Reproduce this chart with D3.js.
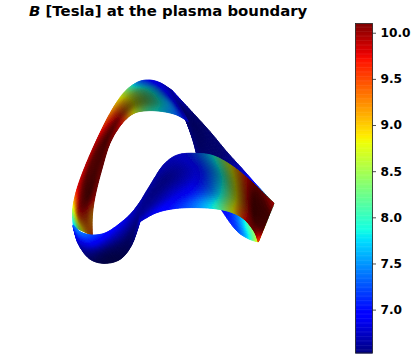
<!DOCTYPE html>
<html>
<head>
<meta charset="utf-8">
<script src="https://cdnjs.cloudflare.com/ajax/libs/d3/7.8.5/d3.min.js"></script>
<style>
html, body { margin: 0; padding: 0; background: #fff; }
text { font-family: "DejaVu Sans", sans-serif; font-weight: bold; fill: #000; }
</style>
</head>
<body>
<div id="chart"></div>
<script>
// colorbar
let tickValues = [7.0, 7.5, 8.0, 8.5, 9.0, 9.5, 10.0];
let fieldMin = 6.53, fieldMax = 10.1;

// jet colormap, [position, level]
let jetRed = [[0, 0], [0.35, 0], [0.66, 1], [0.89, 1], [1, 0.5]];
let jetGreen = [[0, 0], [0.125, 0], [0.375, 1], [0.64, 1], [0.91, 0], [1, 0]];
let jetBlue = [[0, 0.5], [0.11, 1], [0.34, 1], [0.65, 0], [1, 0]];

// surface patches. each station: [edge A x, y, edge B x, y], projected surface units
// field rows: B read across the ribbon, light rows: shading read across the ribbon
let rearStations = [
    [335, 60, 378, 150], [400, 130, 400, 215], [450, 185, 420, 290], [500, 245, 450, 360],
    [550, 300, 490, 428], [590, 345, 530, 482], [615, 372, 565, 506], [642, 400, 595, 516]
];
let rearField = [
    [6.8, 6.6, 6.6, 6.6], [6.55, 6.55, 6.55, 6.55], [6.55, 6.55, 6.55, 6.6], [6.6, 6.6, 6.7, 6.8],
    [6.8, 6.8, 7.0, 7.0], [7.1, 7.2, 7.7, 7.2], [7.7, 7.6, 8.5, 7.8], [8.1, 8.1, 8.9, 8.9]
];
let rearLight = [
    [1, 0.8, 0.8, 0.9], [0.8, 0.7, 0.75, 0.9], [0.8, 0.75, 0.8, 1], [0.8, 0.8, 1, 1],
    [0.9, 1, 1, 1], [1, 1, 1, 1], [1, 1, 1, 1], [1, 1, 1, 1]
];

let archStations = [
    [40, 470, 97, 497], [38, 420, 97, 440], [50, 360, 105, 380], [75, 290, 125, 300],
    [110, 210, 150, 220], [150, 130, 185, 162], [190, 70, 222, 130], [230, 38, 265, 122],
    [265, 30, 310, 125], [300, 38, 350, 135], [335, 60, 385, 155]
];
let archField = [
    [7.5, 8.4, 9.1, 9.5], [8.6, 9.6, 9.6, 9.2], [9.7, 10.0, 10.1, 9.8], [9.8, 10.1, 10.1, 10.0],
    [9.8, 10.0, 10.1, 10.0], [9.3, 9.6, 9.8, 9.7], [8.6, 8.9, 9.0, 8.8], [7.5, 8.2, 8.4, 8.1],
    [7.0, 7.7, 7.9, 7.7], [6.8, 7.1, 7.4, 7.3], [6.65, 6.75, 6.8, 6.9]
];
let archLight = [
    [1, 0.65, 0.55, 0.55], [1, 0.55, 0.45, 0.55], [0.95, 0.6, 0.45, 0.55], [0.85, 0.65, 0.55, 0.6],
    [0.85, 0.7, 0.55, 0.7], [0.85, 0.65, 0.5, 0.7], [0.8, 0.55, 0.42, 0.65], [0.8, 0.5, 0.4, 0.6],
    [0.85, 0.55, 0.5, 0.65], [0.9, 0.7, 0.7, 0.8], [0.9, 0.7, 0.6, 0.7]
];

let lobeStations = [
    [40, 466, 40, 472], [62, 486, 55, 522], [97, 495, 88, 566], [140, 487, 132, 580],
    [190, 452, 180, 568], [218, 425, 215, 525], [242, 393, 240, 455]
];
let lobeField = [
    [7.4, 7.3, 7.2, 7.1], [7.4, 7.2, 7.0, 6.8], [7.2, 7.0, 6.8, 6.6], [7.0, 6.8, 6.6, 6.55],
    [6.85, 6.75, 6.6, 6.55], [6.8, 6.75, 6.65, 6.6], [6.8, 6.75, 6.75, 6.8]
];
let lobeLight = [
    [1, 1, 1, 1], [1, 1, 0.9, 0.85], [1, 0.95, 0.7, 0.65], [1, 0.85, 0.6, 0.5],
    [1, 0.8, 0.6, 0.5], [0.9, 0.75, 0.65, 0.65], [0.8, 0.75, 0.75, 0.9]
];

let frontStations = [
    [242, 393, 240, 455], [280, 330, 290, 428], [312, 283, 350, 415], [352, 255, 420, 413],
    [405, 250, 478, 418], [462, 258, 522, 430], [522, 292, 555, 450], [582, 342, 583, 485],
    [642, 400, 595, 516]
];
let frontField = [
    [6.8, 6.75, 6.75, 6.8], [6.75, 6.7, 6.75, 6.9], [6.8, 6.7, 6.85, 7.1], [6.9, 6.8, 7.0, 7.5],
    [7.2, 7.1, 7.4, 8.1], [7.9, 7.8, 8.2, 8.9], [9.0, 9.0, 9.2, 9.7], [10.0, 10.1, 10.1, 10.0],
    [9.9, 10.1, 10.1, 9.5]
];
let frontLight = [
    [0.8, 0.75, 0.75, 0.9], [0.8, 0.7, 0.8, 1], [0.8, 0.7, 0.85, 1], [0.75, 0.75, 0.9, 1],
    [0.65, 0.7, 0.75, 0.85], [0.6, 0.55, 0.6, 0.65], [0.5, 0.45, 0.45, 0.6], [0.55, 0.42, 0.42, 0.65],
    [0.8, 0.5, 0.6, 0.9]
];

let patches = [
    {stations: rearStations, field: rearField, light: rearLight},
    {stations: archStations, field: archField, light: archLight},
    {stations: lobeStations, field: lobeField, light: lobeLight},
    {stations: frontStations, field: frontField, light: frontLight}
];

let width = 416, height = 358;
let stepsAlong = 14, stepsAcross = 26;

let svg = d3.select("#chart").append("svg")
    .attr("width", width)
    .attr("height", height);

// the reference is a downsized raster, everything is a bit soft
let soft = svg.append("defs").append("filter").attr("id", "soft")
    .attr("x", "-5%").attr("y", "-5%").attr("width", "110%").attr("height", "110%");
soft.append("feGaussianBlur").attr("stdDeviation", 0.45);

// projected surface units to pixels
let x = d3.scaleLinear().domain([0, 690]).range([60, 290]);
let y = d3.scaleLinear().domain([0, 600]).range([70, 270]);

function channel(stops) {
    return d3.scaleLinear()
        .domain(stops.map(function (d) { return d[0]; }))
        .range(stops.map(function (d) { return d[1]; }))
        .clamp(true);
}
let red = channel(jetRed), green = channel(jetGreen), blue = channel(jetBlue);
let norm = d3.scaleLinear().domain([fieldMin, fieldMax]).clamp(true);

function color(value, light) {
    let t = norm(value);
    return d3.rgb(red(t) * 255 * light, green(t) * 255 * light, blue(t) * 255 * light).formatHex();
}

// catmull-rom through one row of numbers
function spline(row, t) {
    let n = row.length - 1;
    let i = Math.min(Math.floor(t * n), n - 1);
    let s = t * n - i;
    let p0 = row[Math.max(i - 1, 0)], p1 = row[i], p2 = row[i + 1], p3 = row[Math.min(i + 2, n)];
    return 0.5 * (2 * p1 + (p2 - p0) * s + (2 * p0 - 5 * p1 + 4 * p2 - p3) * s * s + (3 * p1 - p0 - 3 * p2 + p3) * s * s * s);
}

function column(table, j) {
    return table.map(function (r) { return r[j]; });
}

// cut one patch into small quads for drawing
function tessellate(patch) {
    let nu = (patch.stations.length - 1) * stepsAlong;
    let cols = d3.range(nu + 1).map(function (i) {
        let u = i / nu;
        return {
            ax: spline(column(patch.stations, 0), u),
            ay: spline(column(patch.stations, 1), u),
            bx: spline(column(patch.stations, 2), u),
            by: spline(column(patch.stations, 3), u),
            f: d3.range(4).map(function (j) { return spline(column(patch.field, j), u); }),
            l: d3.range(4).map(function (j) { return spline(column(patch.light, j), u); })
        };
    });
    let quads = [];
    for (let i = 0; i < nu; i++) {
        for (let j = 0; j < stepsAcross; j++) {
            let v0 = j / stepsAcross, v1 = (j + 1) / stepsAcross, vm = (v0 + v1) / 2;
            let c0 = cols[i], c1 = cols[i + 1];
            let px = function (c, v) { return x(c.ax + (c.bx - c.ax) * v); };
            let py = function (c, v) { return y(c.ay + (c.by - c.ay) * v); };
            quads.push({
                d: "M" + px(c0, v0) + "," + py(c0, v0) + "L" + px(c1, v0) + "," + py(c1, v0) +
                   "L" + px(c1, v1) + "," + py(c1, v1) + "L" + px(c0, v1) + "," + py(c0, v1) + "Z",
                fill: color(spline(c0.f, vm), spline(c0.l, vm))
            });
        }
    }
    return quads;
}

let surface = svg.append("g").attr("filter", "url(#soft)");
patches.forEach(function (patch) {
    surface.append("g").selectAll("path")
        .data(tessellate(patch)).enter()
        .append("path")
        .attr("d", function (d) { return d.d; })
        .attr("fill", function (d) { return d.fill; })
        .attr("stroke", function (d) { return d.fill; })
        .attr("stroke-width", 1);
});

// title
let title = svg.append("text")
    .attr("x", 29)
    .attr("y", 16)
    .attr("font-size", 14.9);
title.append("tspan").attr("font-style", "italic").text("B");
title.append("tspan").text(" [Tesla] at the plasma boundary");

// colorbar
let barX = 355.5, barW = 17;
let yBar = d3.scaleLinear().domain([fieldMin, fieldMax]).range([353, 23.5]);

svg.append("g").selectAll("rect")
    .data(d3.range(256)).enter()
    .append("rect")
    .attr("x", barX)
    .attr("width", barW)
    .attr("y", function (d) { return yBar(fieldMin + (fieldMax - fieldMin) * (d + 1) / 256); })
    .attr("height", (yBar(fieldMin) - yBar(fieldMax)) / 256 + 0.5)
    .attr("fill", function (d) { return color(fieldMin + (fieldMax - fieldMin) * (d + 0.5) / 256, 1); });

svg.append("rect")
    .attr("x", barX)
    .attr("y", yBar(fieldMax))
    .attr("width", barW)
    .attr("height", yBar(fieldMin) - yBar(fieldMax))
    .attr("fill", "none")
    .attr("stroke", "#222")
    .attr("stroke-width", 0.8);

let axis = d3.axisRight(yBar)
    .tickValues(tickValues)
    .tickFormat(d3.format(".1f"))
    .tickSize(3.5)
    .tickPadding(4.5);

let axisG = svg.append("g")
    .attr("transform", "translate(" + (barX + barW) + ",0)")
    .call(axis);
axisG.select(".domain").remove();
axisG.selectAll("line").attr("stroke", "#222").attr("stroke-width", 0.8);
axisG.selectAll("text").attr("font-size", 12.2).attr("font-family", '"DejaVu Sans", sans-serif').attr("font-weight", "bold");
</script>
</body>
</html>
